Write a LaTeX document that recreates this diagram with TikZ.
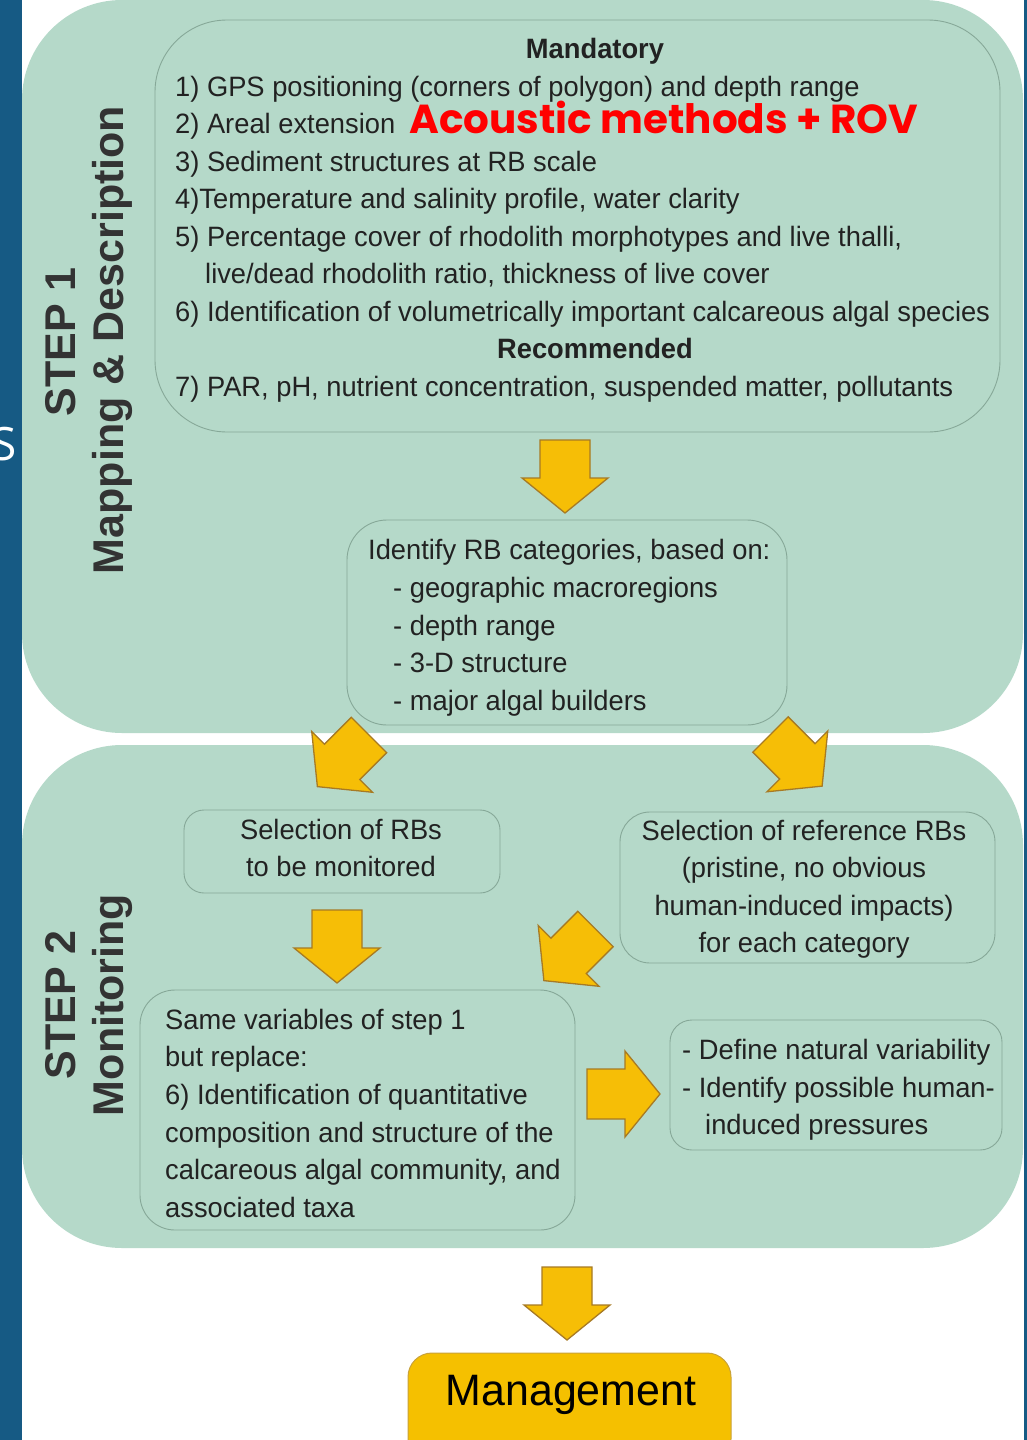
\documentclass[tikz,border=0pt]{standalone}
\usepackage{fontspec}
\setmainfont{Liberation Sans}
\newfontfamily\bodyfont[FakeStretch=0.975]{Liberation Sans}
\newfontfamily\redfont{Poppins}
\newfontfamily\sfont{Open Sans}
\definecolor{bggreen}{HTML}{B5D9C9}
\definecolor{boxline}{HTML}{86A898}
\definecolor{stripblue}{HTML}{165A84}
\definecolor{arrowfill}{HTML}{F6BE06}
\definecolor{arrowline}{HTML}{A77A24}
\definecolor{mgmtfill}{HTML}{F5C000}
\definecolor{mgmtline}{HTML}{C9A23A}
\definecolor{textcol}{HTML}{222222}
\definecolor{steptext}{HTML}{333333}
\definecolor{redtext}{HTML}{FF0000}
\tikzset{
  stepbg/.style={fill=bggreen, draw=none, rounded corners=100pt, inner sep=0pt},
  innerbox/.style={fill=bggreen, draw=boxline, line width=0.9pt, inner sep=0pt},
  txt/.style={font=\bodyfont\fontsize{28}{37.5}\selectfont, text=textcol, inner sep=0pt, anchor=base west},
  ctxt/.style={txt, anchor=base},
  btxt/.style={font=\bodyfont\bfseries\fontsize{28}{37.5}\selectfont, text=textcol, inner sep=0pt, anchor=base},
  steplbl/.style={font=\bfseries\fontsize{43}{46}\selectfont, text=steptext, inner sep=0pt, rotate=90, anchor=base},
  blockarrow/.style={fill=arrowfill, draw=arrowline, line width=1.3pt, line join=miter},
  bigarrow/.pic={\path[blockarrow] (-25,0) -- (25,0) -- (25,38) -- (43,38) -- (0,73) -- (-43,38) -- (-25,38) -- cycle;}
}
\begin{document}
\begin{tikzpicture}[x=1pt,y=-1pt]
\useasboundingbox[fill=white] (0,0) rectangle (1027,1440);
% step backgrounds
\node[stepbg, minimum width=1001pt, minimum height=733pt] (step1) at (522.5,366.5) {};
\node[stepbg, minimum width=1001pt, minimum height=503pt] (step2) at (522.5,996.5) {};
% side strips
\fill[stripblue] (0,0) rectangle (22,1440);
\fill[stripblue] (1023.5,0) rectangle (1027,1440);
\node[font=\sfont\fontsize{46}{50}\selectfont, text=white, inner sep=0pt, anchor=base east] (sletter) at (17,460) {S};
% step labels
\node[steplbl] (s1a) at (75,342) {STEP 1};
\node[steplbl] (s1b) at (123,340) {Mapping \& Description};
\node[steplbl] (s2a) at (75,1005) {STEP 2};
\node[steplbl] (s2b) at (123,1005) {Monitoring};
% mandatory box
\node[innerbox, rounded corners=72pt, minimum width=845pt, minimum height=412pt] (mand) at (577.5,226) {};
\node[btxt] (mhead) at (595,58.5) {Mandatory};
\node[txt] (m1) at (175,96) {1) GPS positioning (corners of polygon) and depth range};
\node[txt] (m2) at (175,133.5) {2) Areal extension};
\node[font=\redfont\bfseries, text=redtext, inner sep=0pt, anchor=base west] (red) at (409,133) {\resizebox{509pt}{!}{Acoustic methods + ROV}};
\node[txt] (m3) at (175,171) {3) Sediment structures at RB scale};
\node[txt] (m4) at (175,208.5) {4)Temperature and salinity profile, water clarity};
\node[txt] (m5) at (175,246) {5) Percentage cover of rhodolith morphotypes and live thalli,};
\node[txt] (m5b) at (205,283.5) {live/dead rhodolith ratio, thickness of live cover};
\node[txt] (m6) at (175,321) {6) Identification of volumetrically important calcareous algal species};
\node[btxt] (rhead) at (595,358.5) {Recommended};
\node[txt] (m7) at (175,396) {7) PAR, pH, nutrient concentration, suspended matter, pollutants};
% identify box
\node[innerbox, rounded corners=40pt, minimum width=440pt, minimum height=205pt] (ident) at (567,622.5) {};
\node[txt] (i1) at (368,559) {Identify RB categories, based on:};
\node[txt] (i2) at (393,597) {- geographic macroregions};
\node[txt] (i3) at (393,635) {- depth range};
\node[txt] (i4) at (393,672) {- 3-D structure};
\node[txt] (i5) at (393,710) {- major algal builders};
% selection boxes
\node[innerbox, rounded corners=20pt, minimum width=316pt, minimum height=83pt] (selm) at (342,851.5) {};
\node[ctxt] (sm1) at (341,839) {Selection of RBs};
\node[ctxt] (sm2) at (341,876) {to be monitored};
\node[innerbox, rounded corners=30pt, minimum width=375pt, minimum height=151pt] (selr) at (807.5,887.5) {};
\node[ctxt] (sr1) at (804,840) {Selection of reference RBs};
\node[ctxt] (sr2) at (804,877) {(pristine, no obvious};
\node[ctxt] (sr3) at (804,915) {human-induced impacts)};
\node[ctxt] (sr4) at (804,952) {for each category};
% same variables box
\node[innerbox, rounded corners=35pt, minimum width=435pt, minimum height=240pt] (same) at (357.5,1110) {};
\node[txt] (v1) at (165,1029) {Same variables of step 1};
\node[txt] (v2) at (165,1066) {but replace:};
\node[txt] (v3) at (165,1104) {6) Identification of quantitative};
\node[txt] (v4) at (165,1142) {composition and structure of the};
\node[txt] (v5) at (165,1179) {calcareous algal community, and};
\node[txt] (v6) at (165,1217) {associated taxa};
% define box
\node[innerbox, rounded corners=22pt, minimum width=332pt, minimum height=130pt] (defn) at (836,1085) {};
\node[txt] (d1) at (682,1059) {- Define natural variability};
\node[txt] (d2) at (682,1097) {- Identify possible human-};
\node[txt] (d3) at (705,1134) {induced pressures};
% management
\node[fill=mgmtfill, draw=mgmtline, line width=1pt, rounded corners=24pt, minimum width=323pt, minimum height=110pt, inner sep=0pt] (mgmt) at (569.5,1408) {};
\node[font=\bodyfont\fontsize{44}{48}\selectfont, text=black, inner sep=0pt, anchor=base] (mtext) at (571,1405) {Management};
% block arrows
\pic at (565,440) {bigarrow};
\pic[rotate=-45] at (369,735) {bigarrow};
\pic[rotate=45] at (770.5,734.5) {bigarrow};
\pic at (337,910) {bigarrow};
\pic[rotate=-45] at (595.5,929) {bigarrow};
\pic[rotate=90] at (587,1094) {bigarrow};
\pic at (567,1267) {bigarrow};
\end{tikzpicture}
\end{document}
